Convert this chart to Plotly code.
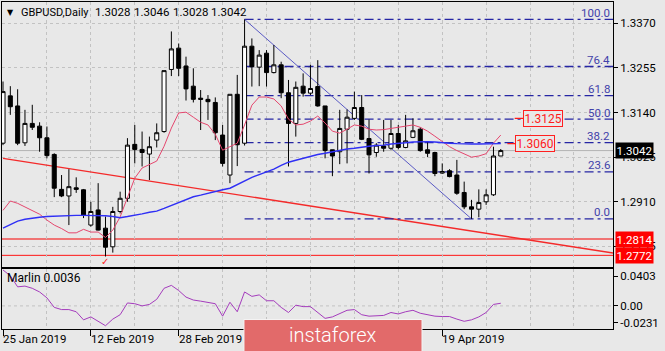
import plotly.graph_objects as go

# ---------------- data ----------------
bar_index = list(range(69))
open_ = [1.3061, 1.3183, 1.3157, 1.3062, 1.3112, 1.3105, 1.3075, 1.3032, 1.2942, 1.2925,
         1.2946, 1.2941, 1.2850, 1.2889, 1.2842, 1.2794, 1.2885, 1.2919, 1.3058, 1.3045,
         1.3033, 1.3069, 1.3091, 1.3251, 1.3306, 1.3260, 1.3208, 1.3177, 1.3174, 1.3166,
         1.3082, 1.2979, 1.3187, 1.3061, 1.3311, 1.3257, 1.3293, 1.3243, 1.3263, 1.3191,
         1.3112, 1.3208, 1.3190, 1.3207, 1.3157, 1.3044, 1.3039, 1.3097, 1.3125, 1.3153,
         1.3073, 1.3037, 1.3054, 1.3048, 1.3086, 1.3050, 1.3076, 1.3097, 1.3044, 1.3037,
         1.2984, 1.2990, 1.2979, 1.2934, 1.2897, 1.2891, 1.2910, 1.2928, 1.3028]
high = [1.3220, 1.3208, 1.3200, 1.3147, 1.3160, 1.3115, 1.3104, 1.3035, 1.2979, 1.2994,
        1.2973, 1.2943, 1.2910, 1.2958, 1.2872, 1.2897, 1.2936, 1.3074, 1.3108, 1.3091,
        1.3078, 1.3112, 1.3248, 1.3349, 1.3318, 1.3284, 1.3254, 1.3198, 1.3185, 1.3179,
        1.3108, 1.3187, 1.3237, 1.3380, 1.3331, 1.3301, 1.3301, 1.3314, 1.3271, 1.3224,
        1.3220, 1.3241, 1.3263, 1.3275, 1.3157, 1.3044, 1.3147, 1.3148, 1.3194, 1.3185,
        1.3122, 1.3061, 1.3121, 1.3121, 1.3108, 1.3134, 1.3125, 1.3102, 1.3065, 1.3039,
        1.3009, 1.2994, 1.3018, 1.2962, 1.2915, 1.2942, 1.2942, 1.3052, 1.3046]
low = [1.3056, 1.3134, 1.3056, 1.3054, 1.3095, 1.3039, 1.3022, 1.2922, 1.2922, 1.2850,
       1.2933, 1.2868, 1.2846, 1.2836, 1.2769, 1.2779, 1.2880, 1.2910, 1.3009, 1.3001,
       1.2966, 1.3050, 1.3088, 1.3234, 1.3234, 1.3171, 1.3166, 1.3095, 1.3121, 1.3069,
       1.3001, 1.2958, 1.3002, 1.3055, 1.3207, 1.3208, 1.3207, 1.3241, 1.3177, 1.3001,
       1.3078, 1.3181, 1.3185, 1.3155, 1.3022, 1.2976, 1.3007, 1.3009, 1.3121, 1.3069,
       1.2983, 1.3026, 1.3039, 1.3044, 1.3045, 1.3048, 1.3074, 1.3039, 1.3025, 1.2976,
       1.2982, 1.2973, 1.2928, 1.2891, 1.2866, 1.2870, 1.2902, 1.2925, 1.3028]
close = [1.3194, 1.3155, 1.3061, 1.3112, 1.3102, 1.3075, 1.3029, 1.2945, 1.2925, 1.2949,
         1.2942, 1.2876, 1.2885, 1.2837, 1.2793, 1.2885, 1.2919, 1.3056, 1.3045, 1.3037,
         1.3052, 1.3088, 1.3248, 1.3304, 1.3254, 1.3201, 1.3174, 1.3174, 1.3168, 1.3088,
         1.3009, 1.3187, 1.3057, 1.3311, 1.3258, 1.3288, 1.3243, 1.3263, 1.3191, 1.3112,
         1.3205, 1.3190, 1.3202, 1.3157, 1.3042, 1.3028, 1.3099, 1.3128, 1.3153, 1.3071,
         1.3031, 1.3056, 1.3048, 1.3086, 1.3050, 1.3067, 1.3093, 1.3042, 1.3035, 1.2983,
         1.2988, 1.2975, 1.2932, 1.2897, 1.2891, 1.2908, 1.2928, 1.3028, 1.3042]

ma_fast = [1.2888, 1.2912, 1.2906, 1.2897, 1.2888, 1.2878, 1.2863, 1.2850, 1.2841, 1.2830,
           1.2830, 1.2839, 1.2832, 1.2832, 1.2818, 1.2837, 1.2871, 1.2919, 1.2971, 1.2997,
           1.3007, 1.3015, 1.3053, 1.3100, 1.3139, 1.3141, 1.3128, 1.3115, 1.3108, 1.3084,
           1.3043, 1.3053, 1.3061, 1.3108, 1.3159, 1.3180, 1.3180, 1.3175, 1.3157, 1.3123,
           1.3108, 1.3110, 1.3118, 1.3131, 1.3113, 1.3092, 1.3087, 1.3097, 1.3108, 1.3105,
           1.3097, 1.3095, 1.3096, 1.3099, 1.3102, 1.3105, 1.3108, 1.3102, 1.3092, 1.3079,
           1.3066, 1.3052, 1.3042, 1.3033, 1.3025, 1.3028, 1.3034, 1.3061, 1.3082]
ma_slow = [1.2842, 1.2850, 1.2860, 1.2865, 1.2868, 1.2870, 1.2872, 1.2873, 1.2874, 1.2875,
           1.2875, 1.2875, 1.2875, 1.2875, 1.2874, 1.2872, 1.2869, 1.2872, 1.2875, 1.2879,
           1.2883, 1.2886, 1.2893, 1.2901, 1.2909, 1.2917, 1.2923, 1.2927, 1.2932, 1.2937,
           1.2941, 1.2945, 1.2955, 1.2963, 1.2973, 1.2980, 1.2986, 1.2994, 1.3004, 1.3012,
           1.3017, 1.3022, 1.3028, 1.3032, 1.3035, 1.3039, 1.3042, 1.3046, 1.3048, 1.3051,
           1.3053, 1.3055, 1.3056, 1.3059, 1.3060, 1.3062, 1.3064, 1.3065, 1.3065, 1.3064,
           1.3062, 1.3061, 1.3060, 1.3059, 1.3059, 1.3059, 1.3059, 1.3060, 1.3060]
marlin = [0.049, 0.041, 0.026, 0.027, 0.024, 0.019, 0.011, -0.002, -0.005, -0.005,
          -0.008, -0.019, -0.015, -0.021, -0.027, -0.018, -0.012, 0.004, 0.003, 0.000,
          0.002, 0.009, 0.024, 0.028, 0.021, 0.012, 0.008, 0.0065, 0.005, 0.003,
          -0.014, 0.005, -0.008, 0.019, 0.013, 0.015, 0.007, 0.007, -0.002, -0.009,
          0.001, -0.001, -0.001, -0.009, -0.017, -0.015, -0.010, -0.006, -0.005, -0.012,
          -0.014, -0.014, -0.013, -0.009, -0.011, -0.008, -0.006, -0.010, -0.012, -0.014,
          -0.0145, -0.0145, -0.018, -0.021, -0.019, -0.015, -0.009, 0.002, 0.0036]

price_ticks = [1.2795, 1.2910, 1.3025, 1.3140, 1.3255, 1.3370]
marlin_ticks = [-0.0231, 0.0, 0.0403]
marlin_tick_text = ["-0.0231", "0.00", "0.0403"]
date_bars = [0, 12, 24, 60]
date_labels = ["25 Jan 2019", "12 Feb 2019", "28 Feb 2019", "19 Apr 2019"]
date_tick_bars = [0, 12, 24, 36, 48, 60]
fib_ratios = [0.0, 23.6, 38.2, 50.0, 61.8, 76.4, 100.0]
fib_high, fib_high_bar = 1.3380, 33
fib_low, fib_low_bar = 1.2866, 64
trend_start = (0, 1.3022)
trend_end = (83.33, 1.2778)
support_levels = [1.2814, 1.2772]
ray_levels = [1.3125, 1.3060]
last_price = 1.3042
header_symbol = "GBPUSD,Daily"
header_prices = ["1.3028", "1.3046", "1.3028", "1.3042"]
marlin_title = "Marlin 0.0036"

# ---------------- style ----------------
BG = "#e8e8e8"
GRID = "#c2c2c2"
FONT = "Roboto"
FS = 11.5
X_RANGE = [-0.137, 83.33]
Y_RANGE = [1.27432, 1.34249]
M_RANGE = [-0.0315, 0.051]
PLOT_LEFT_PX, PLOT_W_PX = 2, 611


def px_to_paper_x(px):
    return (px - PLOT_LEFT_PX) / PLOT_W_PX


fig = go.Figure()

fig.add_trace(go.Candlestick(
    x=bar_index, open=open_, high=high, low=low, close=close,
    increasing=dict(line=dict(color="black", width=1), fillcolor="white"),
    decreasing=dict(line=dict(color="black", width=1), fillcolor="black"),
    whiskerwidth=0, hoverinfo="skip", showlegend=False, xaxis="x", yaxis="y"))

fig.add_trace(go.Scatter(x=bar_index, y=ma_fast, mode="lines",
                         line=dict(color="#e4476e", width=1), hoverinfo="skip",
                         showlegend=False, xaxis="x", yaxis="y"))
fig.add_trace(go.Scatter(x=bar_index, y=ma_slow, mode="lines",
                         line=dict(color="#2f2ff5", width=1.4), hoverinfo="skip",
                         showlegend=False, xaxis="x", yaxis="y"))
fig.add_trace(go.Scatter(x=bar_index, y=marlin, mode="lines",
                         line=dict(color="#a43cbc", width=1), hoverinfo="skip",
                         showlegend=False, xaxis="x2", yaxis="y2"))

shapes = []
annotations = []

# horizontal support lines
for lvl, col, w in zip(support_levels, ["#f07474", "#ff1414"], [2, 1]):
    shapes.append(dict(type="line", xref="paper", x0=0, x1=1, yref="y", y0=lvl, y1=lvl,
                       line=dict(color=col, width=w), layer="between"))
# bid line
shapes.append(dict(type="line", xref="paper", x0=0, x1=1, yref="y", y0=last_price, y1=last_price,
                   line=dict(color="#b4b4b4", width=1), layer="between"))
# red trend line
shapes.append(dict(type="line", xref="x", yref="y", x0=trend_start[0], y0=trend_start[1],
                   x1=trend_end[0], y1=trend_end[1], line=dict(color="#f42a2a", width=1.4),
                   layer="between"))
# fibonacci
fib_range = fib_high - fib_low
for r in fib_ratios:
    lvl = fib_low + fib_range * r / 100.0
    shapes.append(dict(type="line", xref="x", yref="y", x0=fib_high_bar, x1=X_RANGE[1] + 1,
                       y0=lvl, y1=lvl, line=dict(color="#2626a4", width=1.3, dash="9px,4px,3px,4px"),
                       layer="between"))
    annotations.append(dict(xref="paper", x=0.9985, xanchor="right", yref="y", y=lvl,
                            yanchor="bottom", yshift=-2.5, text=f"{r:.1f}", showarrow=False,
                            font=dict(family=FONT, size=FS, color="#4242aa")))
shapes.append(dict(type="line", xref="x", yref="y", x0=fib_high_bar, y0=fib_high,
                   x1=fib_low_bar, y1=fib_low, line=dict(color="#5a5ac4", width=1), layer="between"))

# ray labels (1.3125 / 1.3060)
for lvl, (sx0, sx1, cx) in zip(ray_levels, [(69.9, 71.3, 73.8), (68.9, 70.3, 72.7)]):
    shapes.append(dict(type="line", xref="x", yref="y", x0=sx0, x1=sx1, y0=lvl, y1=lvl,
                       line=dict(color="#ff1a1a", width=1.2), layer="above"))
    annotations.append(dict(xref="x", x=cx, yref="y", y=lvl, text=f"{lvl:.4f}", showarrow=False,
                            font=dict(family=FONT, size=FS + 0.5, color="#ff1a1a"),
                            bordercolor="#ff2020", borderwidth=1, borderpad=0.5, bgcolor=BG))

# marlin zero grid line
shapes.append(dict(type="line", xref="paper", x0=0, x1=1, yref="y2", y0=0, y1=0,
                   line=dict(color=GRID, width=1, dash="3px,3px"), layer="between"))

# right-axis price boxes
for lvl, bg in [(last_price, "black"), (support_levels[0], "#ff0000"), (support_levels[1], "#ff0000")]:
    annotations.append(dict(xref="paper", x=1.0035, xanchor="left", yref="y", y=lvl,
                            text=f"{lvl:.4f}", showarrow=False, bgcolor=bg, borderpad=0.5,
                            font=dict(family=FONT, size=FS, color="white")))

# header and indicator title
annotations.append(dict(xref="paper", x=px_to_paper_x(10), xanchor="center", yref="paper", y=0.969,
                        yanchor="middle", text="▼", showarrow=False,
                        font=dict(family="DejaVu Sans", size=8, color="black")))
header_x_px = [19, 93, 131.5, 170.5, 209]
header_sizes = [11, 11.5, 11.5, 11.5, 11.5]
for txt, hx, hs in zip([header_symbol] + header_prices, header_x_px, header_sizes):
    annotations.append(dict(xref="paper", x=px_to_paper_x(hx), xanchor="left", yref="paper",
                            y=0.969, yanchor="middle", text=txt, showarrow=False,
                            font=dict(family=FONT, size=hs, color="black")))
annotations.append(dict(xref="paper", x=0.0052, xanchor="left", yref="paper", y=0.156,
                        yanchor="middle", text=marlin_title, showarrow=False,
                        font=dict(family=FONT, size=12, color="black")))
# red check arrow object
annotations.append(dict(xref="x", x=13.9, yref="y", y=1.2757, text="✓", showarrow=False,
                        font=dict(family="DejaVu Sans", size=10, color="#ff2020")))

# date labels
for b, t in zip(date_bars, date_labels):
    annotations.append(dict(xref="x2", x=b, xanchor="left", xshift=-2, yref="paper", y=-0.031,
                            yanchor="middle", text=t, showarrow=False,
                            font=dict(family=FONT, size=FS, color="black")))

# watermark
shapes.append(dict(type="rect", xref="paper", yref="paper", x0=0.396, x1=0.6874,
                   y0=-0.08, y1=0.029, fillcolor="#e26a6a",
                   line=dict(color="#f4f4f4", width=1), layer="above"))
annotations.append(dict(xref="paper", x=0.541, xanchor="center", yref="paper", y=-0.018,
                        yanchor="middle", text="instaforex", showarrow=False,
                        font=dict(family=FONT, size=20, color="white", weight=300)))

grid_major = list(range(0, 84, 6))
grid_minor = [v for v in grid_major if v not in date_tick_bars]

axis_common = dict(showline=True, linecolor="black", linewidth=1, mirror=True, zeroline=False,
                   fixedrange=True)

fig.update_layout(
    width=665, height=351,
    margin=dict(l=2, r=52, t=2, b=22),
    paper_bgcolor=BG, plot_bgcolor=BG,
    showlegend=False,
    boxgap=0.45, boxgroupgap=0,
    font=dict(family=FONT, size=FS, color="black"),
    xaxis=dict(domain=[0, 1], anchor="y", range=X_RANGE, tickmode="array", tickvals=grid_major,
               showticklabels=False, ticks="", showgrid=True, gridcolor=GRID, griddash="3px,3px",
               gridwidth=1, rangeslider=dict(visible=False), **axis_common),
    xaxis2=dict(domain=[0, 1], anchor="y2", matches="x", range=X_RANGE, tickmode="array",
                tickvals=date_tick_bars, showticklabels=False, ticks="outside", ticklen=6,
                tickcolor="black", showgrid=True, gridcolor=GRID, griddash="3px,3px",
                minor=dict(tickmode="array", tickvals=grid_minor, showgrid=True, gridcolor=GRID,
                           griddash="3px,3px", ticks=""),
                **axis_common),
    yaxis=dict(domain=[0.1911, 1], anchor="x", side="right", range=Y_RANGE, tickmode="array",
               tickvals=price_ticks, ticktext=[f"{v:.4f}" for v in price_ticks], ticks="outside",
               ticklen=4, tickcolor="black", showgrid=True, gridcolor=GRID, griddash="3px,3px",
               tickfont=dict(family=FONT, size=FS, color="black"), **axis_common),
    yaxis2=dict(domain=[0, 0.185], anchor="x2", side="right", range=M_RANGE, tickmode="array",
                tickvals=marlin_ticks, ticktext=marlin_tick_text, ticks="outside", ticklen=4,
                tickcolor="black", showgrid=False,
                tickfont=dict(family=FONT, size=FS, color="black"), **axis_common),
    shapes=shapes,
    annotations=annotations,
)

fig.write_html("out.html")
